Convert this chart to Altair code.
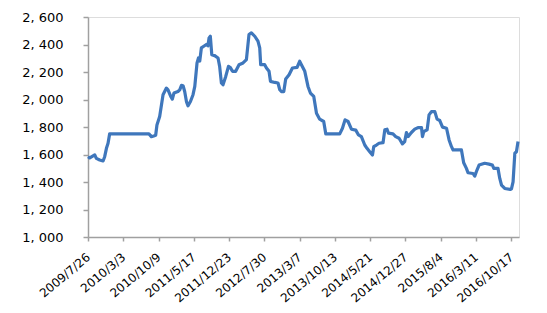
import altair as alt
import pandas as pd

# Days since 2009-07-26
days = [0, 11, 42, 52, 73, 94, 104, 115, 125, 135, 380, 395, 410, 422, 430, 447,
        468, 489, 499, 516, 526, 536, 561, 572, 583, 593, 603, 614, 624, 639, 655,
        666, 680, 689, 697, 707, 722, 738, 748, 755, 763, 772, 790, 811, 821, 832,
        842, 859, 876, 888, 901, 921, 942, 967, 988, 1004, 1019, 1040, 1060, 1071,
        1077, 1102, 1113, 1129, 1138, 1165, 1185, 1196, 1206, 1221, 1233, 1254,
        1275, 1304, 1320, 1331, 1352, 1372, 1387, 1408, 1425, 1445, 1470, 1483,
        1570, 1587, 1603, 1622, 1643, 1670, 1687, 1705, 1726, 1740, 1757, 1774,
        1782, 1799, 1815, 1840, 1851, 1865, 1874, 1902, 1919, 1940, 1961, 1975,
        1986, 1996, 2017, 2038, 2058, 2080, 2086, 2094, 2115, 2127, 2142, 2163,
        2177, 2194, 2211, 2236, 2252, 2267, 2277, 2329, 2343, 2360, 2370, 2401,
        2412, 2426, 2439, 2474, 2501, 2522, 2531, 2557, 2568, 2579, 2599, 2635,
        2641, 2651, 2662, 2672, 2682]
values = [1584, 1575, 1597, 1572, 1560, 1553, 1584, 1645, 1682, 1750, 1750, 1730,
          1735, 1740, 1815, 1876, 2035, 2083, 2070, 2022, 2003, 2047, 2058, 2070,
          2103, 2100, 2058, 1985, 1954, 1985, 2035, 2095, 2266, 2302, 2280, 2375,
          2387, 2400, 2390, 2448, 2460, 2326, 2319, 2302, 2241, 2120, 2107, 2168,
          2241, 2232, 2205, 2205, 2253, 2266, 2290, 2472, 2485, 2460, 2424, 2375,
          2253, 2253, 2229, 2205, 2132, 2124, 2120, 2071, 2058, 2058, 2149, 2180,
          2229, 2234, 2278, 2253, 2205, 2095, 2047, 2022, 1900, 1857, 1840, 1750,
          1750, 1791, 1852, 1840, 1784, 1777, 1742, 1730, 1669, 1645, 1620, 1596,
          1657, 1669, 1682, 1686, 1779, 1784, 1755, 1750, 1730, 1718, 1677, 1694,
          1760, 1730, 1760, 1784, 1796, 1796, 1730, 1767, 1779, 1888, 1912, 1912,
          1857, 1847, 1799, 1791, 1706, 1657, 1633, 1633, 1540, 1499, 1467, 1462,
          1443, 1487, 1523, 1536, 1530, 1523, 1499, 1499, 1426, 1377, 1353, 1346,
          1350, 1401, 1609, 1620, 1694]

tick_days = [0, 220, 440, 660, 880, 1100, 1320, 1540, 1760, 1980, 2200, 2420, 2640]
y_ticks = [1000, 1200, 1400, 1600, 1800, 2000, 2200, 2400, 2600]

base_ms = int(pd.Timestamp("2009-07-26", tz="UTC").value // 10**6)
df = pd.DataFrame({"day": days, "value": values})

FONT = "DejaVu Sans"
AXIS_COLOR = "#a0a0a0"

chart = alt.Chart(df).mark_line(color="#3F77BC", strokeWidth=3.2, strokeJoin="round").encode(
    x=alt.X("day:Q",
            scale=alt.Scale(domain=[0, 2688], nice=False, zero=False),
            axis=alt.Axis(values=tick_days, title=None, grid=False,
                          labelExpr=f"utcFormat(datum.value*86400000 + {base_ms}, '%Y/%-m/%-d')",
                          labelAngle=-40, labelAlign="right", labelBaseline="middle",
                          labelFont=FONT, labelFontSize=12, labelColor="#000000",
                          labelPadding=14, tickSize=4, tickColor=AXIS_COLOR,
                          domainColor=AXIS_COLOR, domainWidth=1.5, tickWidth=1.5,
                          labelOverlap=False, labelFlush=False)),
    y=alt.Y("value:Q",
            scale=alt.Scale(domain=[1000, 2600], nice=False, zero=False),
            axis=alt.Axis(values=y_ticks, title=None, grid=False,
                          labelExpr="replace(format(datum.value, ','), ',', ', ')",
                          labelFont=FONT, labelFontSize=13, labelColor="#000000",
                          labelPadding=20, tickSize=5, tickColor=AXIS_COLOR,
                          domainColor=AXIS_COLOR, domainWidth=1.5, tickWidth=1.5,
                          labelOverlap=False, labelFlush=False)),
).properties(
    width=431, height=220,
    autosize=alt.AutoSizeParams(type="none"),
    padding={"left": 88, "top": 17, "right": 28, "bottom": 76},
).configure_view(stroke=None).configure(background="#ffffff")

chart.save("out.html", embed_options={"renderer": "svg", "actions": False})
